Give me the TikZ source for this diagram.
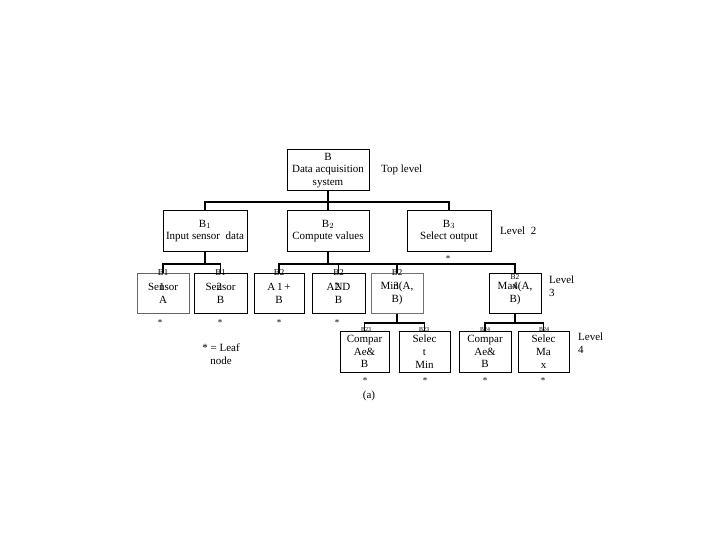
\documentclass[tikz,border=0pt]{standalone}
\usepackage{fontspec}
\setmainfont{Liberation Serif}
\newcommand{\ovl}[1]{\makebox[0pt][l]{#1}}
\begin{document}
\begin{tikzpicture}[x=1pt,y=-1pt,
  box/.style={draw=black,line width=1pt,inner sep=0pt,align=center,font=\fontsize{11}{12.8}\selectfont},
  lbl/.style={inner sep=0pt,align=left,anchor=west,font=\fontsize{11}{12.8}\selectfont},
  sub/.style={inner sep=0pt,font=\fontsize{9}{9}\selectfont},
  tiny/.style={inner sep=0pt,font=\fontsize{6}{6}\selectfont},
  star/.style={inner sep=0pt,font=\fontsize{9}{9}\selectfont},
  conn/.style={draw=black,line width=1.4pt}]
\useasboundingbox (0,0) rectangle (720,540);
% level 1
\node[box,minimum width=82pt,minimum height=41pt] (top) at (328,170.5) {B\\Data acquisition\\system};
% level 2
\node[box,minimum width=84pt,minimum height=40pt] (b1) at (205,231) {B$_1$\\Input sensor\ \ data};
\node[box,minimum width=82pt,minimum height=40pt] (b2) at (328,231) {B$_2$\\Compute values};
\node[box,minimum width=84pt,minimum height=40pt] (b3) at (449,231) {B$_3$\\Select output};
% level 3
\node[box,draw=black!60,minimum width=52pt,minimum height=40pt] (b11) at (163,293) {Se\ovl{1}nsor\\A};
\node[box,minimum width=53pt,minimum height=40pt] (b12) at (220.5,293) {Se\ovl{2}nsor\\B};
\node[box,minimum width=50pt,minimum height=40pt] (b21) at (279,293) {A\,1\,+\\B};
\node[box,minimum width=53pt,minimum height=40pt] (b22) at (338.5,293) {A\ovl{2}ND\\B};
\node[box,draw=black!55,minimum width=52pt,minimum height=40pt] (b23) at (397,293) {Mi\ovl{3}n(A,\\B)};
\node[box,minimum width=52pt,minimum height=40pt] (b24) at (515,293) {Ma\ovl{4}x(A,\\B)};
% level 4
\node[box,minimum width=49pt,minimum height=41pt] (b231) at (364.5,351.5) {Compar\\Ae\&\\B};
\node[box,minimum width=51pt,minimum height=41pt] (b232) at (424.5,351.5) {Selec\\t\\Min};
\node[box,minimum width=52pt,minimum height=41pt] (b241) at (485,351.5) {Compar\\Ae\&\\B};
\node[box,minimum width=51pt,minimum height=41pt] (b242) at (543.5,351.5) {Selec\\Ma\\x};
% connectors
\coordinate (j1) at (328,202);
\coordinate (j2) at (205,264);
\coordinate (j3) at (328,264);
\coordinate (j4) at (397,323);
\coordinate (j5) at (515,323);
\draw[conn] (top.south) -- (j1);
\draw[conn] (b1.north) |- (j1) -| (b3.north);
\draw[conn] (j1) -- (b2.north);
\draw[conn] (b1.south) -- (j2);
\draw[conn] (b11.north) |- (j2) -| (b12.north);
\draw[conn] (b2.south) -- (j3);
\draw[conn] (b21.north) |- (j3) -| (b24.north);
\draw[conn] (b22.north) -- (b22.north |- j3);
\draw[conn] (b23.north) -- (b23.north |- j3);
\draw[conn] (b23.south) -- (j4);
\draw[conn] (b231.north) |- (j4) -| (b232.north);
\draw[conn] (b24.south) -- (j5);
\draw[conn] (b241.north) |- (j5) -| (b242.north);
% subscript labels level 3
\node[sub] (l11) at (163,273) {B1};
\node[sub] (l12) at (220.5,273) {B1};
\node[sub] (l21) at (279,273) {B2};
\node[sub] (l22) at (338.5,273) {B2};
\node[sub] (l23) at (397,273) {B2};
\node[sub,font=\fontsize{7.5}{7.5}\selectfont] (l24) at (515,277) {B2};
% tiny labels level 4
\node[tiny] (l231) at (366,330) {B23};
\node[tiny] (l232) at (424,330) {B23};
\node[tiny] (l241) at (485,330) {B24};
\node[tiny] (l242) at (544,330) {B24};
% stars
\node[star] (s3) at (448,259) {*};
\node[star] (s11) at (160,323) {*};
\node[star] (s12) at (220,323) {*};
\node[star] (s21) at (279,323) {*};
\node[star] (s22) at (337,323) {*};
\node[star] (s231) at (365,381) {*};
\node[star] (s232) at (425,381) {*};
\node[star] (s241) at (485,381) {*};
\node[star] (s242) at (543,381) {*};
% side labels
\node[lbl] (t1) at (381,170) {Top level};
\node[lbl] (t2) at (500,231) {Level\ \ 2};
\node[lbl] (t3) at (549,286) {Level\\3};
\node[lbl] (t4) at (578,343.5) {Level\\4};
\node[inner sep=0pt,align=center,font=\fontsize{11}{12.8}\selectfont] (leaf) at (221,354) {* = Leaf\\node};
\node[inner sep=0pt,font=\fontsize{11}{12.8}\selectfont] (cap) at (369,396) {(a)};
\end{tikzpicture}
\end{document}
